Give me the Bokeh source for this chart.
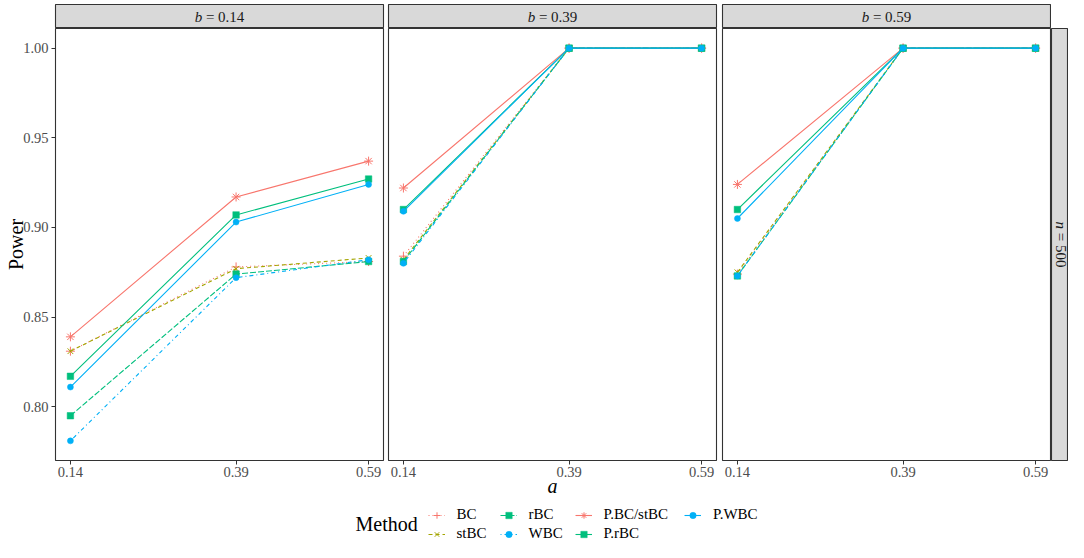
import math
from bokeh.plotting import figure
from bokeh.models import Range1d, FixedTicker, Label, Legend, LegendItem, NumeralTickFormatter
from bokeh.layouts import row, column
from bokeh.embed import file_html
from bokeh.resources import INLINE

# ---------------- data ----------------
a_values = [0.14, 0.39, 0.59]          # x: a
b_labels = ["0.14", "0.39", "0.59"]    # facet columns: b
n_label = "500"                        # facet row: n
y_ticks = [0.80, 0.85, 0.90, 0.95, 1.00]
methods = ["BC", "stBC", "rBC", "WBC", "P.BC/stBC", "P.rBC", "P.WBC"]

# power per method, one list per facet b = 0.14, 0.39, 0.59
BC = [[0.831, 0.878, 0.881], [0.884, 1.000, 1.000], [0.874, 1.000, 1.000]]
stBC = [[0.831, 0.877, 0.883], [0.882, 1.000, 1.000], [0.875, 1.000, 1.000]]
rBC = [[0.795, 0.874, 0.881], [0.881, 1.000, 1.000], [0.873, 1.000, 1.000]]
WBC = [[0.781, 0.872, 0.882], [0.880, 1.000, 1.000], [0.873, 1.000, 1.000]]
P_BC_stBC = [[0.839, 0.917, 0.937], [0.922, 1.000, 1.000], [0.924, 1.000, 1.000]]
P_rBC = [[0.817, 0.907, 0.927], [0.910, 1.000, 1.000], [0.910, 1.000, 1.000]]
P_WBC = [[0.811, 0.903, 0.924], [0.909, 1.000, 1.000], [0.905, 1.000, 1.000]]
series = [BC, stBC, rBC, WBC, P_BC_stBC, P_rBC, P_WBC]

# ---------------- styles ----------------
colors = ["#F8766D", "#A3A500", "#00BF7D", "#00B0F6", "#F8766D", "#00BF7D", "#00B0F6"]
dashes = ["1 3", "4 3", "6 2", "1 3 4 3", "solid", "solid", "solid"]
markers = ["cross", "x", "square", "circle", "asterisk", "square", "circle"]
msizes = [9, 8, 6.5, 6, 9, 6.5, 6]

FONT = "Liberation Serif"
FRAME_W, FRAME_H = 328, 432
STRIP_TOP, STRIP_H = 4, 24
BOTTOM = 40

# ranges with 5% expansion (ggplot style) derived from data
all_y = [v for s in series for panel in s for v in panel]
y_lo, y_hi = min(all_y), max(all_y)
y_pad = 0.05 * (y_hi - y_lo)
x_lo, x_hi = min(a_values), max(a_values)
x_pad = 0.05 * (x_hi - x_lo)

lefts = [55, 3, 3]
rights = [2, 3, 1]


def draw_series(p, i, **extra):
    rs = []
    for s, c, d, m, ms in zip(series, colors, dashes, markers, msizes):
        r1 = p.line(a_values, s[i], line_color=c, line_dash=d, line_width=1.1, **extra)
        if m in ("cross", "x", "asterisk"):
            r2 = p.scatter(a_values, s[i], marker=m, size=ms, line_color=c, line_width=1, **extra)
        else:
            r2 = p.scatter(a_values, s[i], marker=m, size=ms, fill_color=c, line_color=c,
                           line_width=0.5, **extra)
        rs.append((r1, r2))
    return rs


def panel_fig(i):
    kw = dict(title=None, output_backend="svg", toolbar_location=None,
              frame_width=FRAME_W, frame_height=FRAME_H,
              x_range=Range1d(x_lo - x_pad, x_hi + x_pad),
              y_range=Range1d(y_lo - y_pad, y_hi + y_pad),
              min_border_left=lefts[i], min_border_right=rights[i],
              min_border_top=0, min_border_bottom=BOTTOM)
    if i > 0:
        kw["y_axis_location"] = None
    p = figure(**kw)
    p.xgrid.grid_line_color = None
    p.ygrid.grid_line_color = None
    p.outline_line_color = "#333333"
    p.outline_line_width = 1.1
    p.background_fill_color = "white"
    p.border_fill_color = "white"
    axes = [p.xaxis[0]] + ([p.yaxis[0]] if i == 0 else [])
    for ax in axes:
        ax.axis_line_color = None
        ax.major_tick_line_color = "#333333"
        ax.major_tick_out = 4
        ax.major_tick_in = 0
        ax.minor_tick_line_color = None
        ax.major_label_text_font = FONT
        ax.major_label_text_font_size = "14.5px"
        ax.major_label_text_color = "#4D4D4D"
    p.xaxis.ticker = FixedTicker(ticks=a_values)
    p.xaxis.major_label_standoff = 2
    if i == 0:
        p.yaxis.ticker = FixedTicker(ticks=y_ticks)
        p.yaxis.formatter = NumeralTickFormatter(format="0.00")
        p.yaxis.major_label_standoff = 3
        p.yaxis.axis_label = "Power"
        p.yaxis.axis_label_text_font = FONT
        p.yaxis.axis_label_text_font_size = "20px"
        p.yaxis.axis_label_text_font_style = "normal"
        p.yaxis.axis_label_text_color = "black"
        p.yaxis.axis_label_standoff = -7
    if i == 1:
        p.xaxis.axis_label = "a"
        p.xaxis.axis_label_text_font = FONT
        p.xaxis.axis_label_text_font_size = "20px"
        p.xaxis.axis_label_text_font_style = "italic"
        p.xaxis.axis_label_text_color = "black"
        p.xaxis.axis_label_standoff = -5
    draw_series(p, i)
    return p


def strip_fig(i):
    p = figure(title=None, output_backend="svg", toolbar_location=None,
               frame_width=FRAME_W, frame_height=STRIP_H,
               x_range=Range1d(0, FRAME_W), y_range=Range1d(0, STRIP_H),
               x_axis_location=None, y_axis_location=None,
               min_border_left=lefts[i], min_border_right=rights[i],
               min_border_top=STRIP_TOP, min_border_bottom=0)
    p.xgrid.grid_line_color = None
    p.ygrid.grid_line_color = None
    p.background_fill_color = "#D9D9D9"
    p.border_fill_color = "white"
    p.outline_line_color = "#333333"
    p.outline_line_width = 1.1
    fs = 15
    total = fs * (0.5 + 0.25 + 0.564 + 0.25 + 0.5 * 3 + 0.25)
    s = FRAME_W / 2 - total / 2
    common = dict(y=STRIP_H / 2, text_font=FONT, text_font_size=f"{fs}px",
                  text_color="#1A1A1A", text_baseline="middle", text_align="left")
    p.add_layout(Label(x=s, text="b", text_font_style="italic", **common))
    p.add_layout(Label(x=s + fs * 0.75, text="=", **common))
    p.add_layout(Label(x=s + fs * (0.75 + 0.564 + 0.25), text=b_labels[i], **common))
    return p


def right_strip():
    W = 17
    p = figure(title=None, output_backend="svg", toolbar_location=None,
               frame_width=W, frame_height=FRAME_H,
               x_range=Range1d(0, W), y_range=Range1d(0, FRAME_H),
               x_axis_location=None, y_axis_location=None,
               min_border_left=0, min_border_right=0,
               min_border_top=STRIP_TOP + STRIP_H, min_border_bottom=BOTTOM)
    p.xgrid.grid_line_color = None
    p.ygrid.grid_line_color = None
    p.background_fill_color = "#D9D9D9"
    p.border_fill_color = "white"
    p.outline_line_color = "#333333"
    p.outline_line_width = 1.1
    fs = 15
    total = fs * (0.5 + 0.25 + 0.564 + 0.25 + 1.5)
    top = FRAME_H / 2 + total / 2
    common = dict(x=W / 2 + 1, text_font=FONT, text_font_size=f"{fs}px", angle=-math.pi / 2,
                  text_color="#1A1A1A", text_baseline="middle", text_align="left")
    p.add_layout(Label(y=top, text="n", text_font_style="italic", **common))
    p.add_layout(Label(y=top - fs * 0.75, text="=", **common))
    p.add_layout(Label(y=top - fs * (0.75 + 0.564 + 0.25), text=n_label, **common))
    return p


def legend_fig(height):
    W = 1068
    p = figure(title=None, output_backend="svg", toolbar_location=None,
               frame_width=W, frame_height=height,
               x_range=Range1d(0, W), y_range=Range1d(0, height),
               x_axis_location=None, y_axis_location=None,
               min_border_left=0, min_border_right=0, min_border_top=0, min_border_bottom=0)
    p.xgrid.grid_line_color = None
    p.ygrid.grid_line_color = None
    p.outline_line_color = None
    # key renderers: same data, mapped through ranges that put them outside the frame
    p.extra_x_ranges = {"keys": Range1d(10, 11)}
    p.extra_y_ranges = {"keys": Range1d(10, 11)}
    rs = draw_series(p, 0, x_range_name="keys", y_range_name="keys")
    items = [LegendItem(label=name, renderers=list(r)) for name, r in zip(methods, rs)]
    cols = [items[0:2], items[2:4], items[4:6], items[6:7]]
    xs = [427.5, 499.5, 574.5, 684]
    for its, x in zip(cols, xs):
        y = 0 if len(its) == 2 else 19
        lg = Legend(items=its, location=(x, y), orientation="vertical",
                    padding=0, margin=0, spacing=2, glyph_width=17, glyph_height=16,
                    label_height=16, label_standoff=12,
                    label_text_font=FONT, label_text_font_size="15px", label_text_color="black",
                    border_line_color=None, background_fill_alpha=0)
        p.add_layout(lg)
    p.add_layout(Label(x=355, y=18.5, text="Method", text_font=FONT, text_font_size="20px",
                       text_baseline="middle", text_align="left", text_color="black"))
    return p


cols = [column(strip_fig(i), panel_fig(i)) for i in range(3)]
top_h = STRIP_TOP + STRIP_H + FRAME_H + BOTTOM
layout = column(row(*cols, right_strip()), legend_fig(542 - top_h))

open("out.html", "w").write(file_html(layout, INLINE))
